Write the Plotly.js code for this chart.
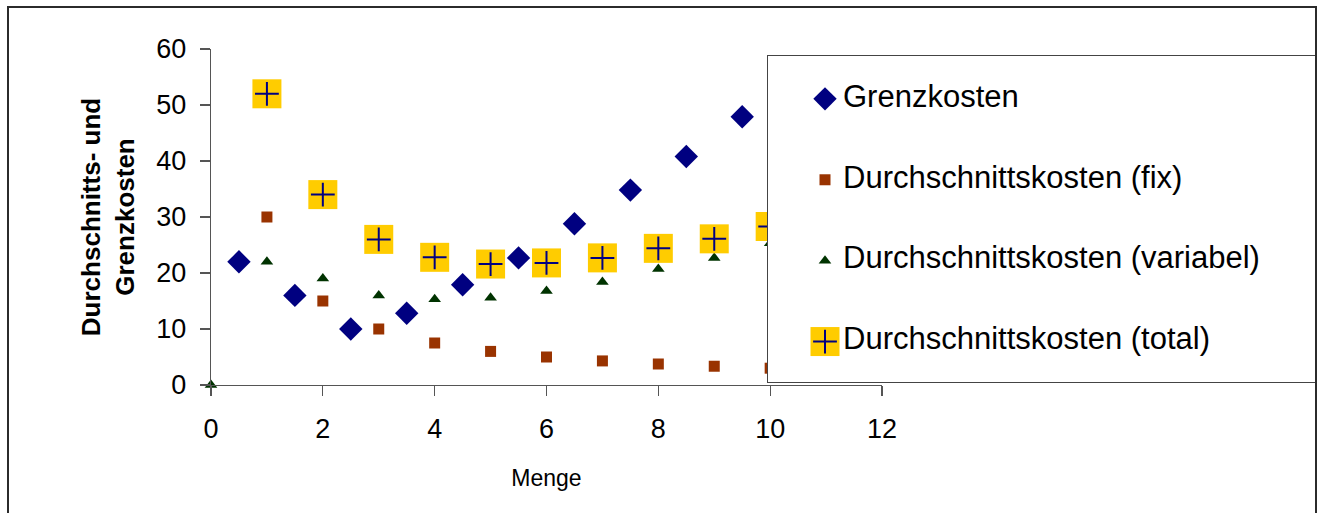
<!DOCTYPE html>
<html><head><meta charset="utf-8">
<script src="https://cdn.plot.ly/plotly-3.0.1.min.js"></script>
<style>
html,body{margin:0;padding:0;background:#fff;overflow:hidden}
#chart{position:absolute;left:0;top:0;width:1322px;height:513px}
#frame{position:absolute;left:7px;top:6px;width:1310px;height:540px;border:2px solid #2b2b2b;box-sizing:border-box;pointer-events:none}
</style></head><body>
<div id="chart"></div><div id="frame"></div>
<script>
// ---- data ----
const seriesNames = ['Grenzkosten', 'Durchschnittskosten (fix)', 'Durchschnittskosten (variabel)', 'Durchschnittskosten (total)'];
const mengeMitte = [0.5, 1.5, 2.5, 3.5, 4.5, 5.5, 6.5, 7.5, 8.5, 9.5];
const grenzkosten = [22, 16, 10, 12.8, 17.9, 22.7, 28.8, 34.8, 40.8, 47.9];
const mengeAb1 = [1, 2, 3, 4, 5, 6, 7, 8, 9, 10];
const dkFix = [30, 15, 10, 7.5, 6, 5, 4.3, 3.75, 3.35, 3];
const mengeAb0 = [0, 1, 2, 3, 4, 5, 6, 7, 8, 9, 10];
const dkVariabel = [0, 22, 19, 16, 15.3, 15.6, 16.8, 18.4, 20.7, 22.7, 25.3];
const dkTotal = [52, 34, 26, 22.8, 21.6, 21.8, 22.7, 24.4, 26.1, 28.3];
const xTicks = [0, 2, 4, 6, 8, 10, 12];
const yTicks = [0, 10, 20, 30, 40, 50, 60];

const FONT = '"Liberation Sans", Arial, sans-serif';
const styles = [
  [{symbol: 'diamond', size: 18, color: '#000080'}],
  [{symbol: 'square', size: 11, color: '#993300'}],
  [{symbol: 'triangle-up', size: 11, color: '#003300'}],
  [{symbol: 'square', size: 29, color: '#FFCC00'},
   {symbol: 'cross-thin', size: 17, color: '#000080', line: {color: '#000080', width: 2}}]
];
const seriesX = [mengeMitte, mengeAb1, mengeAb0, mengeAb1];
const seriesY = [grenzkosten, dkFix, dkVariabel, dkTotal];

const traces = [];
seriesY.forEach((ys, i) => {
  styles[i].forEach(m => {
    traces.push({x: seriesX[i], y: ys, type: 'scatter', mode: 'markers', marker: m,
      cliponaxis: false, showlegend: false, hoverinfo: 'skip', name: seriesNames[i]});
  });
});

// ---- hand-built legend box (own subplot so it covers the data) ----
const legMarkerX = 57, legTextX = 75, legWidth = 548;
const rows = seriesNames.map((_, i) => seriesNames.length - 0.5 - i);
seriesNames.forEach((n, i) => {
  styles[i].forEach(m => {
    traces.push({x: [legMarkerX], y: [rows[i]], xaxis: 'x2', yaxis: 'y2', type: 'scatter',
      mode: 'markers', marker: m, showlegend: false, hoverinfo: 'skip'});
  });
});
traces.push({x: rows.map(() => legTextX), y: rows, xaxis: 'x2', yaxis: 'y2', type: 'scatter',
  mode: 'text', text: seriesNames, textposition: 'middle right',
  textfont: {family: FONT, size: 31, color: '#000'}, showlegend: false, hoverinfo: 'skip'});

const W = 1322, H = 513, L = 211, R = 6, T = 49, B = 128;
const plotW = W - L - R, plotH = H - T - B;

const layout = {
  width: W, height: H,
  margin: {l: L, r: R, t: T, b: B, pad: 0},
  paper_bgcolor: '#fff', plot_bgcolor: '#fff',
  showlegend: false, hovermode: false,
  font: {family: FONT, color: '#000'},
  xaxis: {
    domain: [0, (882 - L) / plotW], range: [0, 12], tickvals: xTicks, ticktext: xTicks.map(String),
    showgrid: false, zeroline: false, showline: true, linecolor: '#555', linewidth: 1.3,
    ticks: 'outside', ticklen: 10, tickcolor: '#555', tickwidth: 1.3,
    tickfont: {family: FONT, size: 27, color: '#000'}, ticklabelstandoff: 9,
    title: {text: 'Menge', font: {family: FONT, size: 23, color: '#000'}, standoff: 27},
    fixedrange: true
  },
  yaxis: {
    range: [0, 60], tickvals: yTicks, ticktext: yTicks.map(String),
    showgrid: false, zeroline: false, showline: true, linecolor: '#555', linewidth: 1.3,
    ticks: 'outside', ticklen: 10, tickcolor: '#555', tickwidth: 1.3,
    tickfont: {family: FONT, size: 27, color: '#000'}, ticklabelstandoff: 8,
    title: {text: 'Durchschnitts- und<br>Grenzkosten', font: {family: FONT, size: 26, color: '#000', weight: 'bold'}, standoff: 14},
    fixedrange: true
  },
  xaxis2: {
    domain: [(768 - L) / plotW, 1], range: [0, legWidth], anchor: 'y2',
    showgrid: false, zeroline: false, showticklabels: false, ticks: '',
    showline: true, mirror: true, linecolor: '#444', linewidth: 1.3, fixedrange: true
  },
  yaxis2: {
    domain: [(H - B - 382) / plotH, (H - B - 56) / plotH], range: [0, seriesNames.length + 0.03], anchor: 'x2',
    showgrid: false, zeroline: false, showticklabels: false, ticks: '',
    showline: true, mirror: true, linecolor: '#444', linewidth: 1.3, fixedrange: true
  }
};

Plotly.newPlot('chart', traces, layout, {staticPlot: true, displayModeBar: false});
</script></body></html>
